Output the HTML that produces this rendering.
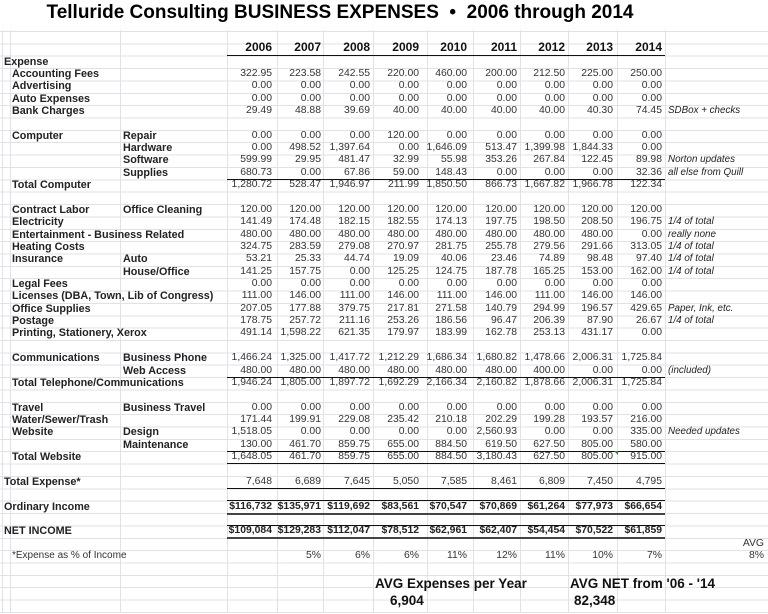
<!DOCTYPE html>
<html><head><meta charset="utf-8"><style>
*{margin:0;padding:0;box-sizing:border-box}
body{width:768px;height:613px;background:#fff;position:relative;overflow:hidden;font-family:"Liberation Sans",Arial,sans-serif;color:#222}
.gh{position:absolute;left:0;top:30.8px;width:768px;height:583px;background:repeating-linear-gradient(to bottom,#dfe2e8 0,#dfe2e8 1px,transparent 1px,transparent 12.36px)}
.gv{position:absolute;top:30px;width:1px;height:583px;background:#dfe2e8}
.r{position:absolute;left:0;width:768px;height:12.4px;line-height:12.4px;font-size:10.4px;white-space:nowrap}
.r span{position:absolute}
.l0{left:4px;font-weight:bold;font-size:10.8px}
.l1{left:12px;font-weight:bold;font-size:10.8px}
.l2{left:123px;font-weight:bold;font-size:10.8px}
.n{color:#333}
.a{right:496px}.b{right:447px}.c{right:398px}.d{right:349px}.e{right:301px}.f{right:251px}.g{right:203px}.h{right:155px}.k{right:106px}
.nt{left:668px;font-style:italic;font-size:9.8px}
.bd span.n{font-weight:bold;color:#222}
.ln{position:absolute;left:227px;width:438px;height:1px;background:#111}
</style></head><body>
<div class="gh"></div>
<div class="gv" style="left:2px"></div><div class="gv" style="left:10px"></div><div class="gv" style="left:120px"></div><div class="gv" style="left:227px"></div><div class="gv" style="left:277px"></div><div class="gv" style="left:323px"></div><div class="gv" style="left:373px"></div><div class="gv" style="left:427px"></div><div class="gv" style="left:473px"></div><div class="gv" style="left:520px"></div><div class="gv" style="left:568px"></div><div class="gv" style="left:617px"></div><div class="gv" style="left:665px"></div>
<div style="position:absolute;left:0;top:0;width:768px;height:30px;background:#fff"></div>
<div style="position:absolute;left:0;top:0;width:680px;text-align:center;font-weight:bold;font-size:19px;line-height:26px;color:#000">Telluride Consulting BUSINESS EXPENSES &nbsp;•&nbsp; 2006 through 2014</div>

<div class="r" style="top:41px;font-weight:bold;font-size:12px;color:#111"><span class="a">2006</span><span class="b">2007</span><span class="c">2008</span><span class="d">2009</span><span class="e">2010</span><span class="f">2011</span><span class="g">2012</span><span class="h">2013</span><span class="k">2014</span></div>
<div class="ln" style="top:55px"></div>

<div class="r" style="top:55.5px"><span class="l0">Expense</span></div>
<div class="r" style="top:67.9px"><span class="l1">Accounting Fees</span><span class="n a">322.95</span><span class="n b">223.58</span><span class="n c">242.55</span><span class="n d">220.00</span><span class="n e">460.00</span><span class="n f">200.00</span><span class="n g">212.50</span><span class="n h">225.00</span><span class="n k">250.00</span></div>
<div class="r" style="top:80.2px"><span class="l1">Advertising</span><span class="n a">0.00</span><span class="n b">0.00</span><span class="n c">0.00</span><span class="n d">0.00</span><span class="n e">0.00</span><span class="n f">0.00</span><span class="n g">0.00</span><span class="n h">0.00</span><span class="n k">0.00</span></div>
<div class="r" style="top:92.6px"><span class="l1">Auto Expenses</span><span class="n a">0.00</span><span class="n b">0.00</span><span class="n c">0.00</span><span class="n d">0.00</span><span class="n e">0.00</span><span class="n f">0.00</span><span class="n g">0.00</span><span class="n h">0.00</span><span class="n k">0.00</span></div>
<div class="r" style="top:104.9px"><span class="l1">Bank Charges</span><span class="n a">29.49</span><span class="n b">48.88</span><span class="n c">39.69</span><span class="n d">40.00</span><span class="n e">40.00</span><span class="n f">40.00</span><span class="n g">40.00</span><span class="n h">40.30</span><span class="n k">74.45</span><span class="nt">SDBox + checks</span></div>

<div class="r" style="top:129.7px"><span class="l1">Computer</span><span class="l2">Repair</span><span class="n a">0.00</span><span class="n b">0.00</span><span class="n c">0.00</span><span class="n d">120.00</span><span class="n e">0.00</span><span class="n f">0.00</span><span class="n g">0.00</span><span class="n h">0.00</span><span class="n k">0.00</span></div>
<div class="r" style="top:142.0px"><span class="l2">Hardware</span><span class="n a">0.00</span><span class="n b">498.52</span><span class="n c">1,397.64</span><span class="n d">0.00</span><span class="n e">1,646.09</span><span class="n f">513.47</span><span class="n g">1,399.98</span><span class="n h">1,844.33</span><span class="n k">0.00</span></div>
<div class="r" style="top:154.4px"><span class="l2">Software</span><span class="n a">599.99</span><span class="n b">29.95</span><span class="n c">481.47</span><span class="n d">32.99</span><span class="n e">55.98</span><span class="n f">353.26</span><span class="n g">267.84</span><span class="n h">122.45</span><span class="n k">89.98</span><span class="nt">Norton updates</span></div>
<div class="r" style="top:166.7px"><span class="l2">Supplies</span><span class="n a">680.73</span><span class="n b">0.00</span><span class="n c">67.86</span><span class="n d">59.00</span><span class="n e">148.43</span><span class="n f">0.00</span><span class="n g">0.00</span><span class="n h">0.00</span><span class="n k">32.36</span><span class="nt">all else from Quill</span></div>
<div class="ln" style="top:179px"></div>
<div class="r" style="top:179.1px"><span class="l1">Total Computer</span><span class="n a">1,280.72</span><span class="n b">528.47</span><span class="n c">1,946.97</span><span class="n d">211.99</span><span class="n e">1,850.50</span><span class="n f">866.73</span><span class="n g">1,667.82</span><span class="n h">1,966.78</span><span class="n k">122.34</span></div>

<div class="r" style="top:203.8px"><span class="l1">Contract Labor</span><span class="l2">Office Cleaning</span><span class="n a">120.00</span><span class="n b">120.00</span><span class="n c">120.00</span><span class="n d">120.00</span><span class="n e">120.00</span><span class="n f">120.00</span><span class="n g">120.00</span><span class="n h">120.00</span><span class="n k">120.00</span></div>
<div class="r" style="top:216.2px"><span class="l1">Electricity</span><span class="n a">141.49</span><span class="n b">174.48</span><span class="n c">182.15</span><span class="n d">182.55</span><span class="n e">174.13</span><span class="n f">197.75</span><span class="n g">198.50</span><span class="n h">208.50</span><span class="n k">196.75</span><span class="nt">1/4 of total</span></div>
<div class="r" style="top:228.5px"><span class="l1">Entertainment - Business Related</span><span class="n a">480.00</span><span class="n b">480.00</span><span class="n c">480.00</span><span class="n d">480.00</span><span class="n e">480.00</span><span class="n f">480.00</span><span class="n g">480.00</span><span class="n h">480.00</span><span class="n k">0.00</span><span class="nt">really none</span></div>
<div class="r" style="top:240.9px"><span class="l1">Heating Costs</span><span class="n a">324.75</span><span class="n b">283.59</span><span class="n c">279.08</span><span class="n d">270.97</span><span class="n e">281.75</span><span class="n f">255.78</span><span class="n g">279.56</span><span class="n h">291.66</span><span class="n k">313.05</span><span class="nt">1/4 of total</span></div>
<div class="r" style="top:253.3px"><span class="l1">Insurance</span><span class="l2">Auto</span><span class="n a">53.21</span><span class="n b">25.33</span><span class="n c">44.74</span><span class="n d">19.09</span><span class="n e">40.06</span><span class="n f">23.46</span><span class="n g">74.89</span><span class="n h">98.48</span><span class="n k">97.40</span><span class="nt">1/4 of total</span></div>
<div class="r" style="top:265.6px"><span class="l2">House/Office</span><span class="n a">141.25</span><span class="n b">157.75</span><span class="n c">0.00</span><span class="n d">125.25</span><span class="n e">124.75</span><span class="n f">187.78</span><span class="n g">165.25</span><span class="n h">153.00</span><span class="n k">162.00</span><span class="nt">1/4 of total</span></div>
<div class="r" style="top:278.0px"><span class="l1">Legal Fees</span><span class="n a">0.00</span><span class="n b">0.00</span><span class="n c">0.00</span><span class="n d">0.00</span><span class="n e">0.00</span><span class="n f">0.00</span><span class="n g">0.00</span><span class="n h">0.00</span><span class="n k">0.00</span></div>
<div class="r" style="top:290.3px"><span class="l1">Licenses (DBA, Town, Lib of Congress)</span><span class="n a">111.00</span><span class="n b">146.00</span><span class="n c">111.00</span><span class="n d">146.00</span><span class="n e">111.00</span><span class="n f">146.00</span><span class="n g">111.00</span><span class="n h">146.00</span><span class="n k">146.00</span></div>
<div class="r" style="top:302.7px"><span class="l1">Office Supplies</span><span class="n a">207.05</span><span class="n b">177.88</span><span class="n c">379.75</span><span class="n d">217.81</span><span class="n e">271.58</span><span class="n f">140.79</span><span class="n g">294.99</span><span class="n h">196.57</span><span class="n k">429.65</span><span class="nt">Paper, Ink, etc.</span></div>
<div class="r" style="top:315.0px"><span class="l1">Postage</span><span class="n a">178.75</span><span class="n b">257.72</span><span class="n c">211.16</span><span class="n d">253.26</span><span class="n e">186.56</span><span class="n f">96.47</span><span class="n g">206.39</span><span class="n h">87.90</span><span class="n k">26.67</span><span class="nt">1/4 of total</span></div>
<div class="r" style="top:327.4px"><span class="l1">Printing, Stationery, Xerox</span><span class="n a">491.14</span><span class="n b">1,598.22</span><span class="n c">621.35</span><span class="n d">179.97</span><span class="n e">183.99</span><span class="n f">162.78</span><span class="n g">253.13</span><span class="n h">431.17</span><span class="n k">0.00</span></div>

<div class="r" style="top:352.1px"><span class="l1">Communications</span><span class="l2">Business Phone</span><span class="n a">1,466.24</span><span class="n b">1,325.00</span><span class="n c">1,417.72</span><span class="n d">1,212.29</span><span class="n e">1,686.34</span><span class="n f">1,680.82</span><span class="n g">1,478.66</span><span class="n h">2,006.31</span><span class="n k">1,725.84</span></div>
<div class="r" style="top:364.5px"><span class="l2">Web Access</span><span class="n a">480.00</span><span class="n b">480.00</span><span class="n c">480.00</span><span class="n d">480.00</span><span class="n e">480.00</span><span class="n f">480.00</span><span class="n g">400.00</span><span class="n h">0.00</span><span class="n k">0.00</span><span class="nt">(included)</span></div>
<div class="ln" style="top:376.5px"></div>
<div class="r" style="top:376.9px"><span class="l1">Total Telephone/Communications</span><span class="n a">1,946.24</span><span class="n b">1,805.00</span><span class="n c">1,897.72</span><span class="n d">1,692.29</span><span class="n e">2,166.34</span><span class="n f">2,160.82</span><span class="n g">1,878.66</span><span class="n h">2,006.31</span><span class="n k">1,725.84</span></div>

<div class="r" style="top:401.6px"><span class="l1">Travel</span><span class="l2">Business Travel</span><span class="n a">0.00</span><span class="n b">0.00</span><span class="n c">0.00</span><span class="n d">0.00</span><span class="n e">0.00</span><span class="n f">0.00</span><span class="n g">0.00</span><span class="n h">0.00</span><span class="n k">0.00</span></div>
<div class="r" style="top:414.0px"><span class="l1">Water/Sewer/Trash</span><span class="n a">171.44</span><span class="n b">199.91</span><span class="n c">229.08</span><span class="n d">235.42</span><span class="n e">210.18</span><span class="n f">202.29</span><span class="n g">199.28</span><span class="n h">193.57</span><span class="n k">216.00</span></div>
<div class="r" style="top:426.3px"><span class="l1">Website</span><span class="l2">Design</span><span class="n a">1,518.05</span><span class="n b">0.00</span><span class="n c">0.00</span><span class="n d">0.00</span><span class="n e">0.00</span><span class="n f">2,560.93</span><span class="n g">0.00</span><span class="n h">0.00</span><span class="n k">335.00</span><span class="nt">Needed updates</span></div>
<div class="r" style="top:438.7px"><span class="l2">Maintenance</span><span class="n a">130.00</span><span class="n b">461.70</span><span class="n c">859.75</span><span class="n d">655.00</span><span class="n e">884.50</span><span class="n f">619.50</span><span class="n g">627.50</span><span class="n h">805.00</span><span class="n k">580.00</span></div>
<div class="ln" style="top:451px"></div>
<div class="r" style="top:451.0px"><span class="l1">Total Website</span><span class="n a">1,648.05</span><span class="n b">461.70</span><span class="n c">859.75</span><span class="n d">655.00</span><span class="n e">884.50</span><span class="n f">3,180.43</span><span class="n g">627.50</span><span class="n h">805.00</span><span class="n k">915.00</span></div>
<div style="position:absolute;left:614px;top:451px;width:0;height:0;border-top:4px solid #2a8a2a;border-left:4px solid transparent"></div>
<div class="ln" style="top:463.3px"></div>

<div class="r" style="top:475.7px"><span class="l0">Total Expense*</span><span class="n a">7,648</span><span class="n b">6,689</span><span class="n c">7,645</span><span class="n d">5,050</span><span class="n e">7,585</span><span class="n f">8,461</span><span class="n g">6,809</span><span class="n h">7,450</span><span class="n k">4,795</span></div>
<div class="ln" style="top:488px"></div>

<div class="ln" style="top:500px"></div>
<div class="r bd" style="top:500.5px"><span class="l0">Ordinary Income</span><span class="n a">$116,732</span><span class="n b">$135,971</span><span class="n c">$119,692</span><span class="n d">$83,561</span><span class="n e">$70,547</span><span class="n f">$70,869</span><span class="n g">$61,264</span><span class="n h">$77,973</span><span class="n k">$66,654</span></div>
<div class="ln" style="top:512.5px;height:2px;background:#444"></div>

<div class="ln" style="top:525px"></div>
<div class="r bd" style="top:525.2px"><span class="l0">NET INCOME</span><span class="n a">$109,084</span><span class="n b">$129,283</span><span class="n c">$112,047</span><span class="n d">$78,512</span><span class="n e">$62,961</span><span class="n f">$62,407</span><span class="n g">$54,454</span><span class="n h">$70,522</span><span class="n k">$61,859</span></div>
<div class="ln" style="top:537.3px;height:2px;background:#444"></div>

<div class="r" style="top:538px"><span class="n" style="right:4px">AVG</span></div>
<div class="r" style="top:550px"><span class="n" style="left:12px;font-size:10px">*Expense as % of Income</span><span class="n b">5%</span><span class="n c">6%</span><span class="n d">6%</span><span class="n e">11%</span><span class="n f">12%</span><span class="n g">11%</span><span class="n h">10%</span><span class="n k">7%</span><span class="n" style="right:4px">8%</span></div>

<div style="position:absolute;left:375px;top:575px;font-weight:bold;font-size:13.5px;line-height:17px;color:#111">AVG Expenses per Year</div>
<div style="position:absolute;left:390px;top:592px;font-weight:bold;font-size:13.5px;line-height:17px;color:#111">6,904</div>
<div style="position:absolute;left:570px;top:575px;font-weight:bold;font-size:13.5px;line-height:17px;color:#111">AVG NET from '06 - '14</div>
<div style="position:absolute;left:574px;top:592px;font-weight:bold;font-size:13.5px;line-height:17px;color:#111">82,348</div>
</body></html>
